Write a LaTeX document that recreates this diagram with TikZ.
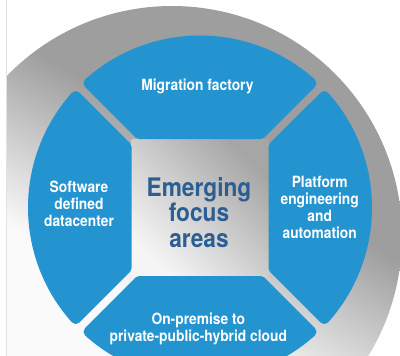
\documentclass[tikz,border=0pt]{standalone}
\usepackage{fontspec}
\setmainfont[FakeStretch=0.89]{TeX Gyre Heros}
\definecolor{segblue}{HTML}{2394D0}
\definecolor{focusblue}{HTML}{2B5E93}
\definecolor{ringdark}{HTML}{9E9E9E}
\definecolor{ringlight}{HTML}{FAFAFA}
\definecolor{pageline}{HTML}{E2E2E2}
\pgfdeclarehorizontalshading{ringshade}{100bp}{color(0bp)=(ringlight); color(42bp)=(ringlight); color(60bp)=(ringdark); color(100bp)=(ringdark)}
\begin{document}
\begin{tikzpicture}[x=1pt,y=1pt,
    part/.style={fill=segblue,draw=segblue,line width=10pt,line join=round},
    parttext/.style={text=white,font=\fontsize{15.5}{17}\selectfont\bfseries,align=center,anchor=base,inner sep=0pt},
    focustext/.style={text=focusblue,font=\fontsize{25.5}{25.3}\selectfont\bfseries,align=center,anchor=base,inner sep=0pt}]
\useasboundingbox (0,0) rectangle (400,-356);
\clip (0,0) rectangle (400,-356);
% page edge
\draw[pageline,line width=1.2pt] (6.5,0) -- (6.5,-356);
% outer ring
\begin{scope}
\clip (7,0) rectangle (400,-356);
\shade[shading=ringshade,shading angle=60] (172,-236) circle (230pt);
\end{scope}
% middle square
\shade[top color=gray!70,bottom color=gray!8,shading angle=-45] (131.5,-139) rectangle (268.5,-276);
% top part
\filldraw[part] (139.2,-134) -- (260.8,-134) -- (311.5,-83.2) arc[start angle=48.1,end angle=131.9,radius=167pt] -- cycle;
% right part
\filldraw[part] (273.5,-146.7) -- (273.5,-268.3) -- (324.3,-319.1) arc[start angle=-41.9,end angle=41.9,radius=167pt] -- cycle;
% bottom part
\filldraw[part] (260.8,-281) -- (139.2,-281) -- (88.5,-331.8) arc[start angle=228.1,end angle=311.9,radius=167pt] -- cycle;
% left part
\filldraw[part] (126.5,-268.3) -- (126.5,-146.7) -- (75.7,-96) arc[start angle=138.1,end angle=221.9,radius=167pt] -- cycle;
% labels
\node[parttext] (migr) at (197.5,-90.7) {Migration factory};
\node[parttext] (sddc) at (79,-226.3) {Software\\defined\\datacenter};
\node[parttext] (plat) at (319.7,-238) {Platform\\engineering\\and\\automation};
\node[parttext] (cloud) at (198.3,-341.5) {On-premise to\\private-public-hybrid cloud};
\node[focustext] (focus) at (199,-247.3) {Emerging\\focus\\areas};
\end{tikzpicture}
\end{document}
